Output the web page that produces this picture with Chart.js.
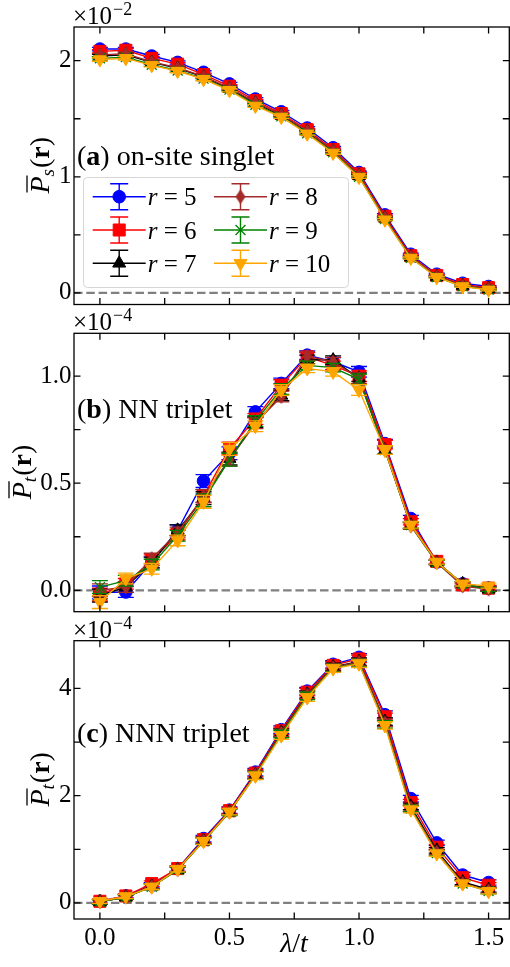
<!DOCTYPE html>
<html><head><meta charset="utf-8">
<script src="https://cdn.jsdelivr.net/npm/chart.js@4.4.1/dist/chart.umd.min.js"></script>
<style>
html,body{margin:0;padding:0;background:#fff;overflow:hidden}
#wrap{position:relative;width:510px;height:967px;background:#fff}
canvas{position:absolute;left:0;top:0}
</style></head><body>
<div id="wrap">
<canvas id="ca" width="510" height="967"></canvas>
<canvas id="cb" width="510" height="967"></canvas>
<canvas id="cc" width="510" height="967"></canvas>
</div>
<script>
// ---------------- data ----------------
const lambdas = [0, 0.1, 0.2, 0.3, 0.4, 0.5, 0.6, 0.7, 0.8, 0.9, 1.0, 1.1, 1.2, 1.3, 1.4, 1.5];
const rValues = ['5', '6', '7', '8', '9', '10'];

// (a) on-site singlet, units 1e-2
const singletR5  = [2.10, 2.10, 2.04, 1.985, 1.90, 1.80, 1.67, 1.56, 1.42, 1.25, 1.037, 0.672, 0.333, 0.161, 0.083, 0.055];
const singletR6  = [2.08, 2.09, 2.02, 1.97, 1.88, 1.78, 1.655, 1.545, 1.405, 1.235, 1.025, 0.660, 0.320, 0.150, 0.072, 0.045];
const singletR7  = [2.04, 2.05, 1.985, 1.935, 1.86, 1.76, 1.635, 1.53, 1.39, 1.22, 1.010, 0.645, 0.308, 0.140, 0.063, 0.035];
const singletR8  = [2.05, 2.06, 1.99, 1.94, 1.865, 1.765, 1.64, 1.535, 1.395, 1.225, 1.015, 0.648, 0.310, 0.143, 0.065, 0.037];
const singletR9  = [2.02, 2.03, 1.965, 1.915, 1.845, 1.75, 1.62, 1.52, 1.375, 1.21, 1.000, 0.635, 0.302, 0.135, 0.057, 0.028];
const singletR10 = [2.01, 2.02, 1.96, 1.91, 1.84, 1.745, 1.61, 1.515, 1.37, 1.205, 0.997, 0.630, 0.300, 0.135, 0.055, 0.026];
const singletErr = [0.015, 0.015, 0.014, 0.014, 0.013, 0.013, 0.012, 0.012, 0.012, 0.011, 0.011, 0.010, 0.009, 0.008, 0.008, 0.008];

// (b) NN triplet, units 1e-4
const nnR5  = [-0.010, -0.008, 0.130, 0.280, 0.510, 0.640, 0.833, 0.966, 1.098, 1.067, 1.020, 0.685, 0.335, 0.132, 0.030, 0.010];
const nnR6  = [-0.020, 0.030, 0.140, 0.260, 0.440, 0.662, 0.800, 0.958, 1.090, 1.050, 1.000, 0.680, 0.320, 0.135, 0.025, 0.010];
const nnR7  = [-0.025, 0.015, 0.130, 0.280, 0.430, 0.615, 0.785, 0.910, 1.078, 1.075, 0.990, 0.655, 0.304, 0.130, 0.030, 0.005];
const nnR8  = [0.000, 0.015, 0.148, 0.270, 0.440, 0.610, 0.780, 0.905, 1.093, 1.067, 0.990, 0.655, 0.300, 0.130, 0.020, 0.005];
const nnR9  = [0.015, 0.045, 0.120, 0.255, 0.420, 0.610, 0.790, 0.940, 1.050, 1.040, 0.985, 0.655, 0.304, 0.130, 0.030, 0.005];
const nnR10 = [-0.055, 0.055, 0.100, 0.233, 0.413, 0.660, 0.766, 0.935, 1.036, 1.020, 0.935, 0.655, 0.305, 0.132, 0.030, 0.020];
const nnErr = [0.030, 0.025, 0.025, 0.025, 0.030, 0.030, 0.025, 0.025, 0.020, 0.020, 0.025, 0.020, 0.015, 0.010, 0.010, 0.010];

// (c) NNN triplet, units 1e-4
const nnnR5  = [0.03, 0.13, 0.33, 0.64, 1.20, 1.73, 2.44, 3.23, 3.95, 4.45, 4.58, 3.51, 1.945, 1.12, 0.52, 0.38];
const nnnR6  = [0.03, 0.13, 0.36, 0.64, 1.18, 1.72, 2.42, 3.21, 3.93, 4.43, 4.55, 3.47, 1.87, 1.04, 0.47, 0.33];
const nnnR7  = [0.02, 0.11, 0.31, 0.62, 1.16, 1.70, 2.39, 3.18, 3.89, 4.40, 4.50, 3.38, 1.80, 0.98, 0.39, 0.25];
const nnnR8  = [0.02, 0.11, 0.31, 0.62, 1.16, 1.70, 2.39, 3.17, 3.88, 4.39, 4.49, 3.36, 1.77, 0.95, 0.37, 0.23];
const nnnR9  = [0.02, 0.11, 0.30, 0.62, 1.15, 1.69, 2.38, 3.15, 3.86, 4.38, 4.47, 3.33, 1.76, 0.93, 0.36, 0.22];
const nnnR10 = [0.03, 0.12, 0.30, 0.63, 1.15, 1.70, 2.37, 3.12, 3.83, 4.37, 4.46, 3.31, 1.74, 0.92, 0.36, 0.22];
const nnnErr = [0.04, 0.04, 0.05, 0.05, 0.06, 0.06, 0.07, 0.07, 0.07, 0.07, 0.07, 0.07, 0.06, 0.05, 0.05, 0.05];

// ticks
const xTicks = [0, 0.25, 0.5, 0.75, 1.0, 1.25, 1.5];
const xTickText = ['0.0', '', '0.5', '', '1.0', '', '1.5'];
const yTicksA = [0, 0.5, 1, 1.5, 2];
const yTickTextA = ['0', '', '1', '', '2'];
const yTicksB = [0, 0.25, 0.5, 0.75, 1.0];
const yTickTextB = ['0.0', '', '0.5', '', '1.0'];
const yTicksC = [0, 1, 2, 3, 4];
const yTickTextC = ['0', '', '2', '', '4'];

// ---------------- styles ----------------
const SERIF = "'Liberation Serif', 'DejaVu Serif', serif";
const colors = ['#0000ff', '#ff0000', '#000000', '#a52a2a', '#008000', '#ffa500'];

function thinDiamond(color) {
  const c = document.createElement('canvas');
  c.width = 12; c.height = 16;
  const g = c.getContext('2d');
  g.fillStyle = color;
  g.beginPath();
  g.moveTo(6, 0.5); g.lineTo(11, 8); g.lineTo(6, 15.5); g.lineTo(1, 8);
  g.closePath(); g.fill();
  return c;
}
const diamondImg = thinDiamond(colors[3]);
const markerStyles = ['circle', 'rect', 'triangle', diamondImg, 'crossRot', 'triangle'];
const markerRadii = [6.3, 8.5, 7.5, 7, 7, 7.5];
const markerRot = [0, 0, 0, 0, 0, 180];

function drawMarker(ctx, i, x, y) {
  ctx.save();
  ctx.fillStyle = colors[i];
  ctx.strokeStyle = colors[i];
  ctx.lineWidth = i === 4 ? 1.3 : 1;
  const st = markerStyles[i];
  if (typeof st !== 'string') {
    ctx.drawImage(st, x - st.width / 2, y - st.height / 2);
  } else if (Chart.helpers && Chart.helpers.drawPoint) {
    Chart.helpers.drawPoint(ctx, {pointStyle: st, rotation: markerRot[i], radius: markerRadii[i], borderWidth: ctx.lineWidth}, x, y);
  } else {
    ctx.beginPath(); ctx.arc(x, y, markerRadii[i], 0, Math.PI * 2); ctx.fill();
  }
  ctx.restore();
}

// ---------------- plugins ----------------
const frameHelpers = {
  id: 'frameHelpers',
  beforeDatasetsDraw(chart) {
    const {ctx, chartArea: a, scales: {y}} = chart;
    const y0 = y.getPixelForValue(0);
    ctx.save();
    ctx.beginPath(); ctx.rect(a.left, a.top, a.right - a.left, a.bottom - a.top); ctx.clip();
    ctx.strokeStyle = '#808080';
    ctx.lineWidth = 2.2;
    ctx.setLineDash([8.5, 3.8]);
    ctx.beginPath(); ctx.moveTo(a.left, y0); ctx.lineTo(a.right, y0); ctx.stroke();
    ctx.restore();
  },
  beforeDatasetDraw(chart, args) {
    const ds = chart.data.datasets[args.index];
    const errs = ds.errors; if (!errs) return;
    const {ctx, chartArea: a, scales: {y}} = chart;
    ctx.save();
    ctx.beginPath(); ctx.rect(a.left, a.top, a.right - a.left, a.bottom - a.top); ctx.clip();
    ctx.strokeStyle = ds.borderColor;
    ctx.lineWidth = 1.3;
    args.meta.data.forEach((pt, j) => {
      const v = ds.data[j].y;
      const yt = y.getPixelForValue(v + errs[j]);
      const yb = y.getPixelForValue(v - errs[j]);
      ctx.beginPath();
      ctx.moveTo(pt.x, yt); ctx.lineTo(pt.x, yb);
      ctx.moveTo(pt.x - 8, yt); ctx.lineTo(pt.x + 8, yt);
      ctx.moveTo(pt.x - 8, yb); ctx.lineTo(pt.x + 8, yb);
      ctx.stroke();
    });
    ctx.restore();
  },
  afterDraw(chart) {
    const {ctx, chartArea: a, scales: {x, y}} = chart;
    const cfg = chart.options.plugins.frameHelpers;
    ctx.save();
    // spines
    ctx.strokeStyle = '#000'; ctx.lineWidth = 1.3;
    ctx.strokeRect(a.left, a.top, a.right - a.left, a.bottom - a.top);
    // inward ticks
    ctx.beginPath();
    x.ticks.forEach(t => {
      const px = x.getPixelForValue(t.value);
      ctx.moveTo(px, a.top); ctx.lineTo(px, a.top + 6.5);
      ctx.moveTo(px, a.bottom); ctx.lineTo(px, a.bottom - 6.5);
    });
    y.ticks.forEach(t => {
      const py = y.getPixelForValue(t.value);
      ctx.moveTo(a.left, py); ctx.lineTo(a.left + 6.5, py);
      ctx.moveTo(a.right, py); ctx.lineTo(a.right - 6.5, py);
    });
    ctx.stroke();

    ctx.fillStyle = '#000';
    ctx.textBaseline = 'alphabetic';
    // exponent
    ctx.font = '25px ' + SERIF;
    ctx.textAlign = 'left';
    const ex = 73;
    ctx.fillText('\u00d710', ex, a.top - 3);
    const w10 = ctx.measureText('\u00d710').width;
    ctx.font = '18px ' + SERIF;
    ctx.fillText('\u2212' + cfg.exp, ex + w10 + 1, a.top - 12);

    // panel label
    let tx = 77;
    const ty = cfg.labelY;
    ctx.font = '28px ' + SERIF;
    ctx.fillText('(', tx, ty); tx += ctx.measureText('(').width;
    ctx.font = 'bold 28px ' + SERIF;
    ctx.fillText(cfg.letter, tx, ty); tx += ctx.measureText(cfg.letter).width;
    ctx.font = '28px ' + SERIF;
    ctx.fillText(') ' + cfg.title, tx, ty);

    // y-axis label  P̄_sub(r)
    ctx.save();
    ctx.translate(cfg.ylabX, (a.top + a.bottom) / 2);
    ctx.rotate(-Math.PI / 2);
    const parts = [
      {t: 'P', f: 'italic 28px ' + SERIF, dy: 0},
      {t: cfg.sub, f: 'italic 19px ' + SERIF, dy: 5},
      {t: '(', f: '28px ' + SERIF, dy: 0},
      {t: 'r', f: 'bold 28px ' + SERIF, dy: 0},
      {t: ')', f: '28px ' + SERIF, dy: 0}
    ];
    let total = 0;
    parts.forEach(p => { ctx.font = p.f; p.w = ctx.measureText(p.t).width; total += p.w; });
    let lx = -total / 2;
    parts.forEach((p, k) => {
      ctx.font = p.f;
      ctx.fillText(p.t, lx, p.dy);
      if (k === 0) {
        ctx.lineWidth = 1.3;
        ctx.beginPath(); ctx.moveTo(lx + 1, -22); ctx.lineTo(lx + p.w + 1, -22); ctx.stroke();
      }
      lx += p.w;
      if (k === 1) lx += 1;
    });
    ctx.restore();

    // x-axis label
    if (cfg.xlabel) {
      const xp = [
        {t: '\u03bb', f: 'italic 28px ' + SERIF},
        {t: '/', f: '28px ' + SERIF},
        {t: 't', f: 'italic 28px ' + SERIF}
      ];
      let tw = 0;
      xp.forEach(p => { ctx.font = p.f; p.w = ctx.measureText(p.t).width; tw += p.w; });
      let sx = 294 - tw / 2;
      xp.forEach(p => { ctx.font = p.f; ctx.fillText(p.t, sx, 952); sx += p.w; });
    }

    // legend
    if (cfg.legend) {
      ctx.save();
      ctx.beginPath();
      if (ctx.roundRect) ctx.roundRect(83.5, 177.5, 265, 110, 4); else ctx.rect(83.5, 177.5, 265, 110);
      ctx.fillStyle = 'rgba(255,255,255,0.8)';
      ctx.fill();
      ctx.strokeStyle = '#d6d6d6'; ctx.lineWidth = 1;
      ctx.stroke();
      ctx.restore();
      const colX = [92.7, 214];
      const rowY = [196.7, 230, 263.3];
      rValues.forEach((rv, i) => {
        const cx = colX[Math.floor(i / 3)];
        const cy = rowY[i % 3];
        const mx = cx + 26.5;
        ctx.save();
        ctx.strokeStyle = colors[i]; ctx.lineWidth = 1.4;
        ctx.beginPath();
        ctx.moveTo(cx, cy); ctx.lineTo(cx + 53, cy);
        ctx.moveTo(mx, cy - 13); ctx.lineTo(mx, cy + 13);
        ctx.moveTo(mx - 9, cy - 13); ctx.lineTo(mx + 9, cy - 13);
        ctx.moveTo(mx - 9, cy + 13); ctx.lineTo(mx + 9, cy + 13);
        ctx.stroke();
        ctx.restore();
        drawMarker(ctx, i, mx, cy);
        let lxp = cx + 55;
        ctx.fillStyle = '#000';
        ctx.font = 'italic 25px ' + SERIF;
        ctx.fillText('r', lxp, cy + 8.5);
        lxp += ctx.measureText('r').width;
        ctx.font = '25px ' + SERIF;
        ctx.fillText(' = ' + rv, lxp, cy + 8.5);
      });
    }
    ctx.restore();
  }
};

// ---------------- panels ----------------
function makePanel(id, p) {
  const datasets = rValues.map((rv, i) => ({
    label: 'r = ' + rv,
    data: lambdas.map((lx, j) => ({x: lx, y: p.series[i][j]})),
    errors: p.err,
    showLine: true,
    borderColor: colors[i],
    backgroundColor: colors[i],
    borderWidth: 1.4,
    pointStyle: markerStyles[i],
    pointRadius: markerRadii[i],
    pointRotation: markerRot[i],
    pointBackgroundColor: colors[i],
    pointBorderColor: colors[i],
    pointBorderWidth: i === 4 ? 1.3 : 1,
    order: 6 - i,
    clip: 0
  }));
  return new Chart(document.getElementById(id), {
    type: 'scatter',
    data: {datasets},
    plugins: [frameHelpers],
    options: {
      responsive: false,
      animation: false,
      devicePixelRatio: 1,
      events: [],
      layout: {autoPadding: false, padding: {top: p.top, right: 0.7, left: 0, bottom: 0}},
      plugins: {
        legend: {display: false},
        tooltip: {enabled: false},
        frameHelpers: p.deco
      },
      scales: {
        x: {
          type: 'linear', min: -0.1, max: 1.58,
          grid: {display: false, drawTicks: false},
          border: {display: false},
          afterBuildTicks: s => { s.ticks = xTicks.map(v => ({value: v})); },
          afterFit: s => { s.height = 967 - p.bottom; s.paddingLeft = 0; s.paddingRight = 0; },
          ticks: {
            display: p.showX, padding: 4, color: '#000', autoSkip: false, maxRotation: 0,
            font: {family: SERIF, size: 25},
            callback: (v, i) => xTickText[i]
          }
        },
        y: {
          type: 'linear', min: p.ymin, max: p.ymax,
          grid: {display: false, drawTicks: false},
          border: {display: false},
          afterBuildTicks: s => { s.ticks = p.yTicks.map(v => ({value: v})); },
          afterFit: s => { s.width = 74; },
          ticks: {
            padding: 2.5, color: '#000', autoSkip: false,
            font: {family: SERIF, size: 25},
            callback: (v, i) => p.yText[i]
          }
        }
      }
    }
  });
}

makePanel('ca', {
  series: [singletR5, singletR6, singletR7, singletR8, singletR9, singletR10],
  err: singletErr, top: 27, bottom: 304.5, ymin: -0.1, ymax: 2.29,
  yTicks: yTicksA, yText: yTickTextA, showX: false,
  deco: {exp: '2', letter: 'a', title: 'on-site singlet', labelY: 165, sub: 's', ylabX: 49, legend: true, xlabel: false}
});
makePanel('cb', {
  series: [nnR5, nnR6, nnR7, nnR8, nnR9, nnR10],
  err: nnErr, top: 333.3, bottom: 611.7, ymin: -0.1, ymax: 1.2,
  yTicks: yTicksB, yText: yTickTextB, showX: false,
  deco: {exp: '4', letter: 'b', title: 'NN triplet', labelY: 418, sub: 't', ylabX: 31, legend: false, xlabel: false}
});
makePanel('cc', {
  series: [nnnR5, nnnR6, nnnR7, nnnR8, nnnR9, nnnR10],
  err: nnnErr, top: 640.7, bottom: 919, ymin: -0.3, ymax: 4.89,
  yTicks: yTicksC, yText: yTickTextC, showX: true,
  deco: {exp: '4', letter: 'c', title: 'NNN triplet', labelY: 741.5, sub: 't', ylabX: 49, legend: false, xlabel: true}
});
</script>
</body></html>
